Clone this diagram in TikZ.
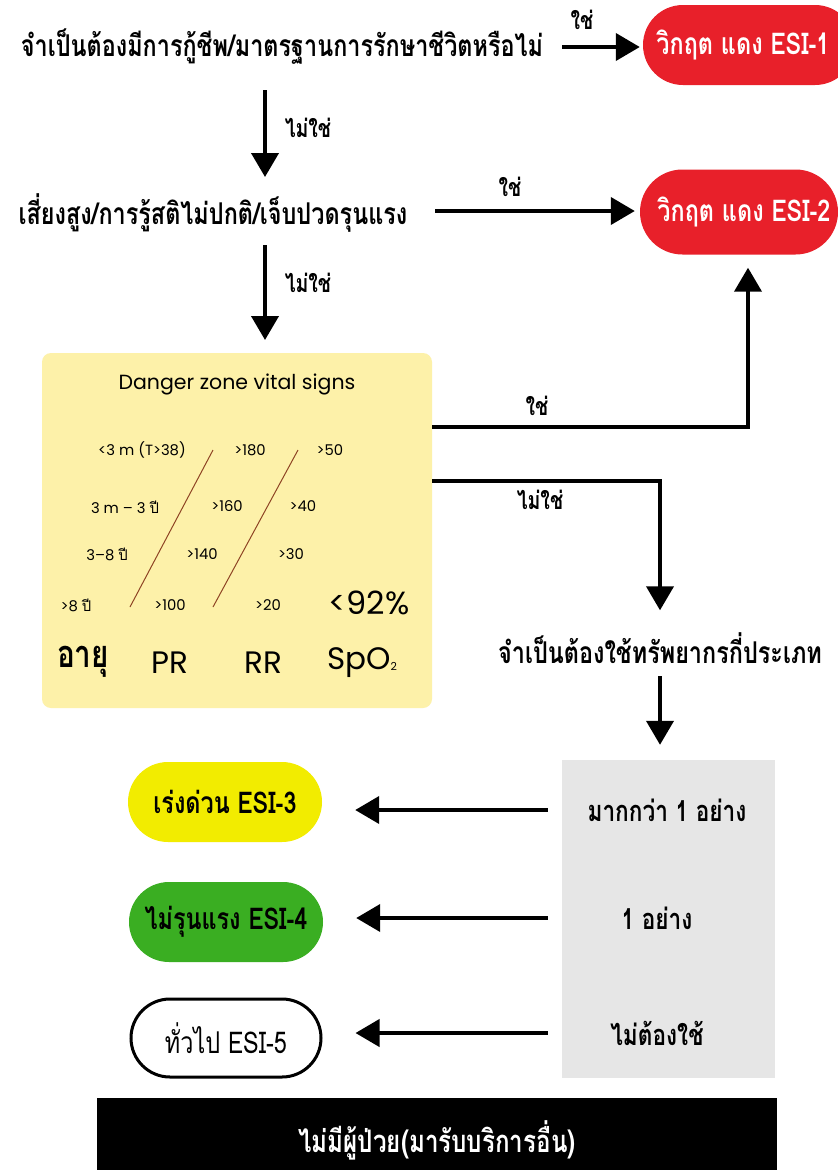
\documentclass[tikz,border=0pt]{standalone}
\usepackage{fontspec}
\usetikzlibrary{arrows.meta,shapes.misc}
\newfontfamily\thai[Script=Thai]{Loma}
\newfontfamily\thaic[Script=Thai,FakeStretch=0.78]{Loma}
\newfontfamily\pop{Poppins}
\definecolor{esired}{HTML}{E8202A}
\definecolor{esiyel}{HTML}{F2EC00}
\definecolor{esigrn}{HTML}{3AAE22}
\definecolor{boxyel}{HTML}{FDF1A9}
\definecolor{boxgry}{HTML}{E6E6E6}
\definecolor{slash}{HTML}{8E4424}
\begin{document}
\begin{tikzpicture}[x=1pt,y=-1pt,
  arr/.style={line width=4pt,-{Triangle[length=24pt,width=27pt]}},
  q/.style={font=\thaic\bfseries\fontsize{30}{34}\selectfont,inner sep=0},
  lab/.style={font=\thaic\bfseries\fontsize{25}{28}\selectfont,inner sep=0},
  pill/.style={rounded rectangle,minimum width=194pt,minimum height=80pt,
    font=\thaic\bfseries\fontsize{30}{34}\selectfont,inner sep=0},
  vs/.style={font=\pop\fontsize{14.8}{17}\selectfont,inner sep=0},
  vsbig/.style={font=\pop\fontsize{31}{34}\selectfont,inner sep=0},
  res/.style={font=\thaic\bfseries\fontsize{29}{33}\selectfont,inner sep=0}]
\clip (0,0) rectangle (838,1170);
\fill[white] (0,0) rectangle (838,1170);

% --- question 1
\node[q] (q1) at (282,47) {จำเป็นต้องมีการกู้ชีพ/มาตรฐานการรักษาชีวิตหรือไม่};
\node[pill,fill=esired,text=white,minimum width=212pt,minimum height=80pt] (e1) at (749,45) {\hspace*{-12pt}วิกฤต แดง ESI-1};
\coordinate (a1s) at (562,47);
\draw[arr,shorten >=3pt] (a1s) -- (a1s -| e1.west);
\node[lab] (y1) at (582,20) {ใช่};

% --- question 2
\node[q] (q2) at (213,213) {เสี่ยงสูง/การรู้สติไม่ปกติ/เจ็บปวดรุนแรง};
\node[pill,fill=esired,text=white,minimum width=198pt,minimum height=85pt] (e2) at (739,212) {\hspace*{10pt}วิกฤต แดง ESI-2};
\coordinate (a2s) at (435,211);
\draw[arr,shorten >=5pt] (a2s) -- (a2s -| e2.west);
\node[lab] (y2) at (510,187) {ใช่};

\coordinate (d1s) at (265,90);
\coordinate (d1e) at (265,177);
\draw[arr] (d1s) -- (d1e);
\node[lab] (n1) at (308,128) {ไม่ใช่};

\coordinate (d2s) at (265,245);
\coordinate (d2e) at (265,340);
\draw[arr] (d2s) -- (d2e);
\node[lab] (n2) at (308,283) {ไม่ใช่};

% --- danger zone box
\node[fill=boxyel,rounded corners=9pt,minimum width=390pt,minimum height=355pt,inner sep=0] (vsb) at (237,530.5) {};
\node[font=\pop\fontsize{20.5}{24}\selectfont,inner sep=0] (vt) at (237,384) {Danger zone vital signs};

\node[vs] (a1) at (142,450) {<3 m (T>38)};
\node[vs] (p1) at (250,450) {>180};
\node[vs] (r1) at (330,450) {>50};
\node[vs] (a2) at (125,507) {3 m – 3 {\thai ปี}};
\node[vs] (p2) at (227,506) {>160};
\node[vs] (r2) at (303,506) {>40};
\node[vs] (a3) at (107,554) {3–8 {\thai ปี}};
\node[vs] (p3) at (202,554) {>140};
\node[vs] (r3) at (291,554) {>30};
\node[vs] (a4) at (76,605) {>8 {\thai ปี}};
\node[vs] (p4) at (170,605) {>100};
\node[vs] (r4) at (268,605) {>20};
\node[font=\pop\fontsize{32}{36}\selectfont,inner sep=0] (s4) at (369,603) {<92\%};
\node[font=\thaic\bfseries\fontsize{38}{42}\selectfont,inner sep=0] (ha) at (83,662) {อายุ};
\node[vsbig] (hp) at (170,663) {PR};
\node[vsbig] (hr) at (263,663) {RR};
\node[vsbig] (hs) at (362,663) {SpO\raisebox{-1pt}{\fontsize{11}{12}\selectfont 2}};
\draw[slash,line width=1pt] (213,450) -- (130,607);
\draw[slash,line width=1pt] (298,450) -- (213,607);

% --- yes / no from box
\coordinate (yb) at (432,427);
\coordinate (yc) at (748,427);
\draw[arr,shorten >=13pt,line join=miter] (yb) -- (yc) -- (yc |- e2.south);
\node[lab] (y3) at (537,406) {ใช่};

\node[q] (q3) at (660,648) {จำเป็นต้องใช้ทรัพยากรกี่ประเภท};
\coordinate (nb) at (432,481);
\coordinate (nc) at (660,481);
\draw[arr,shorten >=22pt,line join=miter] (nb) -- (nc) -- (nc |- q3.north);
\node[lab] (n3) at (540,500) {ไม่ใช่};

% --- resources
\node[fill=boxgry,minimum width=213pt,minimum height=318pt,inner sep=0] (gb) at (668.5,919) {};
\coordinate (d3s) at (660,676);
\draw[arr,shorten >=15pt] (d3s) -- (d3s |- gb.north);

\node[res] (r3a) at (667,810) {มากกว่า 1 อย่าง};
\node[res] (r4a) at (657,918) {1 อย่าง};
\node[res] (r5a) at (657,1033) {ไม่ต้องใช้};

\node[pill,fill=esiyel] (e3) at (225,802) {เร่งด่วน ESI-3};
\node[pill,fill=esigrn] (e4) at (226,922) {ไม่รุนแรง ESI-4};
\node[pill,draw=black,line width=3pt,minimum width=190pt,minimum height=78pt,font=\thaic\fontsize{30}{34}\selectfont] (e5) at (226,1038) {ทั่วไป ESI-5};

\draw[arr,shorten <=14pt,shorten >=33pt] (gb.west |- r3a) -- (e3.east |- r3a);
\draw[arr,shorten <=14pt,shorten >=33pt] (gb.west |- r4a) -- (e4.east |- r4a);
\draw[arr,shorten <=14pt,shorten >=33pt] (gb.west |- r5a) -- (e5.east |- r5a);

% --- bottom bar
\node[fill=black,minimum width=680pt,minimum height=76pt,inner sep=0] (bar) at (437,1136) {};
\node[res,text=white,font=\thaic\bfseries\fontsize{31}{35}\selectfont] (bt) at (437,1140) {ไม่มีผู้ป่วย(มารับบริการอื่น)};
\end{tikzpicture}
\end{document}
